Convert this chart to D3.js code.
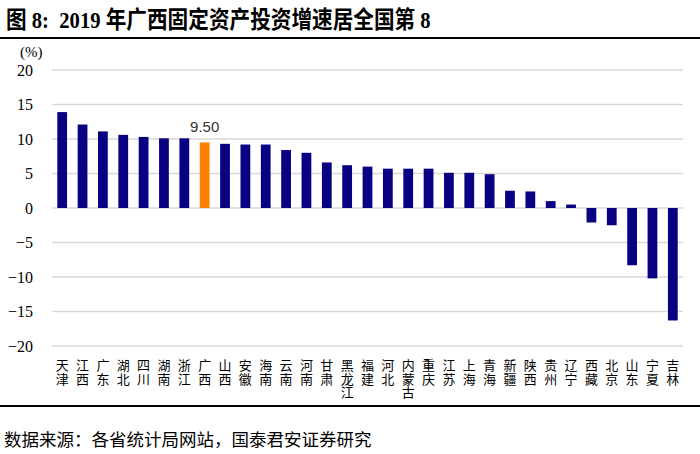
<!doctype html>
<html>
<head>
<meta charset="utf-8">
<title>2019年广西固定资产投资增速</title>
<script src="https://d3js.org/d3.v7.min.js"></script>
<style>
body{margin:0;background:#fff;}
</style>
</head>
<body>
<script>
// 省份及2019年固定资产投资增速(%)
var provinces = ["天津","江西","广东","湖北","四川","湖南","浙江","广西","山西","安徽","海南",
  "云南","河南","甘肃","黑龙江","福建","河北","内蒙古","重庆","江苏","上海","青海",
  "新疆","陕西","贵州","辽宁","西藏","北京","山东","宁夏","吉林"];
var growth = [13.9,12.1,11.1,10.6,10.3,10.1,10.1,9.5,9.3,9.2,9.2,
  8.4,8.0,6.6,6.2,6.0,5.7,5.7,5.7,5.1,5.1,4.9,
  2.5,2.4,1.0,0.5,-2.1,-2.5,-8.3,-10.2,-16.3];
var yTicks = [20,15,10,5,0,-5,-10,-15,-20];
var highlight = "广西";

var width = 700, height = 454;
var svg = d3.select("body").append("svg")
    .attr("width", width)
    .attr("height", height);

// 标题 (横向略压缩)
svg.append("text")
    .attr("transform", "translate(6,28) scale(0.86,1)")
    .attr("font-family", "'Liberation Serif','Noto Sans CJK SC'")
    .attr("font-weight", "bold")
    .attr("font-size", 24)
    .attr("xml:space", "preserve")
    .text("图 8:  2019 年广西固定资产投资增速居全国第 8");
svg.append("rect").attr("x", 0).attr("y", 37).attr("width", width).attr("height", 2).attr("fill", "#000");

var x = d3.scaleBand().domain(provinces).range([52, 683]).paddingInner(0.52).paddingOuter(0.26);
var y = d3.scaleLinear().domain([-20, 20]).range([346, 70]);

// 网格线
svg.selectAll(".grid").data(yTicks).enter().append("line")
    .attr("x1", 52).attr("x2", 683)
    .attr("y1", function(d){return y(d);})
    .attr("y2", function(d){return y(d);})
    .attr("stroke", "#d9d9d9").attr("stroke-width", 1.5);

// y 轴
var yAxis = svg.append("g").attr("transform", "translate(33,0)")
    .call(d3.axisLeft(y).tickValues(yTicks).tickSize(0).tickPadding(0));
yAxis.select(".domain").remove();
yAxis.selectAll("text")
    .attr("font-family", "'Liberation Serif'")
    .attr("font-size", 16).attr("fill", "#000");

svg.append("text").attr("x", 20).attr("y", 57)
    .attr("font-family", "'Liberation Serif'").attr("font-size", 15)
    .text("(%)");

// 柱子
svg.selectAll(".bar").data(provinces).enter().append("rect")
    .attr("x", function(d){return x(d);})
    .attr("width", x.bandwidth())
    .attr("y", function(d,i){return y(Math.max(0, growth[i]));})
    .attr("height", function(d,i){return Math.abs(y(growth[i]) - y(0));})
    .attr("fill", function(d){return d == highlight ? "#ff8000" : "#0a0082";});

// 广西数据标签
var hi = provinces.indexOf(highlight);
svg.append("text")
    .attr("x", x(highlight) + x.bandwidth()/2)
    .attr("y", y(growth[hi]) - 10)
    .attr("text-anchor", "middle")
    .attr("font-family", "'Liberation Sans'").attr("font-size", 15)
    .attr("fill", "#333")
    .text(growth[hi].toFixed(2));

// x 轴标签(竖排, 每字一个 text)
var chars = [];
provinces.forEach(function(d){
  d.split("").forEach(function(c, k){ chars.push({p: d, c: c, k: k}); });
});
svg.selectAll(".lab").data(chars).enter().append("text")
    .attr("x", function(d){return x(d.p) + x.bandwidth()/2;})
    .attr("y", function(d){return 370 + d.k*13.5;})
    .attr("text-anchor", "middle")
    .attr("font-family", "'Noto Sans CJK SC'")
    .attr("font-size", 13)
    .text(function(d){return d.c;});

// 底部
svg.append("rect").attr("x", 0).attr("y", 405).attr("width", width).attr("height", 2).attr("fill", "#000");
svg.append("text").attr("x", 4).attr("y", 446)
    .attr("font-family", "'Noto Sans CJK SC'").attr("font-size", 17.5)
    .text("数据来源：各省统计局网站，国泰君安证券研究");
</script>
</body>
</html>
